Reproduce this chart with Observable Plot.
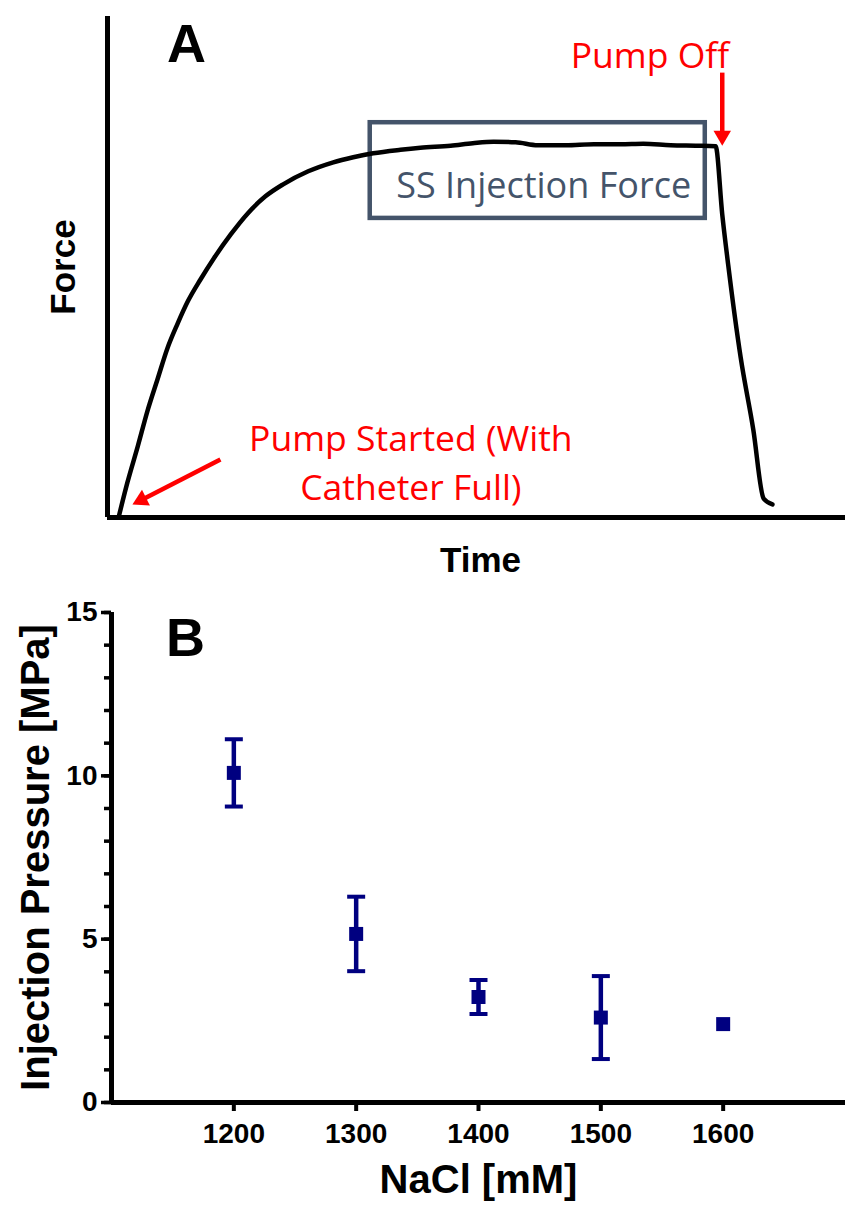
<!DOCTYPE html>
<html>
<head>
<meta charset="utf-8">
<script src="https://cdn.jsdelivr.net/npm/d3@7"></script>
<script src="https://cdn.jsdelivr.net/npm/@observablehq/plot@0.6"></script>
<style>
  html, body { margin: 0; padding: 0; background: #fff; }
  #chart { width: 845px; }
  #chart svg { display: block; }
</style>
</head>
<body>
<div id="chart"></div>
<script>
// ---------- Panel A: schematic force trace (arbitrary units) ----------
const traceTime  = [1.5, 2.7, 4.1, 5.4, 6.8, 8.1, 9.5, 10.8, 12.6, 14.4, 16.7, 19.0, 21.4, 23.8, 27.2, 30.6, 33.3, 36.0, 39.7, 42.4, 46.5, 49.5, 52.3, 55.3, 58.3, 62.1, 65.9, 69.5, 72.6, 76.3, 79.7, 82.4, 83.3, 84.1, 85.8, 87.5, 88.9, 90.1];
const traceForce = [0.0, 7.0, 14.2, 21.2, 27.7, 33.7, 38.7, 42.9, 47.5, 51.7, 56.5, 60.7, 64.1, 66.5, 69.1, 70.9, 71.9, 72.7, 73.4, 73.8, 74.2, 74.7, 75.0, 74.9, 74.3, 74.3, 74.5, 74.5, 74.6, 74.3, 74.2, 74.1, 60.5, 50.5, 31.9, 17.6, 3.8, 2.6];

const panelALabel = ["A"];
const panelALabelTime = [10.7];
const panelALabelForce = [94.3];

const boxTime  = [35.6, 81.0];
const boxForce = [59.7, 78.8];
const boxLabel = ["SS Injection Force"];
const boxLabelTime = [59.1];
const boxLabelForce = [66.0];

const redLabels = ["Pump Off", "Pump Started (With\nCatheter Full)"];
const redLabelTime = [73.5, 41.1];
const redLabelForce = [92.9, 11.5];

const arrowTailTime  = [83.3, 15.3];
const arrowTailForce = [88.8, 11.6];
const arrowHeadTime  = [83.3, 4.6];
const arrowHeadForce = [76.2, 3.5];
const arrowAngle     = [180, -117];

// ---------- Panel B: injection pressure vs NaCl ----------
const nacl        = [1200, 1300, 1400, 1500, 1600];
const pressure    = [10.09, 5.16, 3.23, 2.60, 2.40];
const pressureErr = [1.03, 1.14, 0.52, 1.27, 0];
const xTicksB      = [1200, 1300, 1400, 1500, 1600];
const yMajorTicksB = [0, 5, 10, 15];
const yMinorTicksB = [0, 1, 2, 3, 4, 5, 6, 7, 8, 9, 10, 11, 12, 13, 14, 15];
const panelBLabel = ["B"];
const panelBLabelX = [1160.5];
const panelBLabelY = [14.2];

// ---------- build tables ----------
const traceA = traceTime.map((t, i) => ({t, f: traceForce[i]}));
const boxA = [{x1: boxTime[0], x2: boxTime[1], y1: boxForce[0], y2: boxForce[1]}];
const redA = redLabels.map((s, i) => ({s, t: redLabelTime[i], f: redLabelForce[i]}));
const arrowsA = arrowTailTime.map((t, i) => ({t1: t, f1: arrowTailForce[i], t2: arrowHeadTime[i], f2: arrowHeadForce[i], a: arrowAngle[i]}));
const pointsB = nacl.map((x, i) => ({x, y: pressure[i], e: pressureErr[i]}));
const errB = pointsB.filter(d => d.e > 0);

const RED = "#ff0000";
const SLATE = "#44546a";
const NAVY = "#000080";
const boldSans = "'Liberation Sans', Arial, Helvetica, sans-serif";
const calibriLike = "'Open Sans', 'Noto Sans', sans-serif";

const plotA = Plot.plot({
  width: 845, height: 580,
  marginLeft: 107, marginRight: 0, marginTop: 16, marginBottom: 63,
  x: {domain: [0, 100], axis: null},
  y: {domain: [0, 100], axis: null},
  style: {fontFamily: boldSans, background: "#fff", color: "#000"},
  marks: [
    Plot.rect(boxA, {x1: "x1", x2: "x2", y1: "y1", y2: "y2", fill: "none", stroke: SLATE, strokeWidth: 4.5}),
    Plot.line(traceA, {x: "t", y: "f", curve: "monotone-x", stroke: "#000", strokeWidth: 4.5, strokeLinejoin: "round", strokeLinecap: "round"}),
    Plot.ruleX([0], {stroke: "#000", strokeWidth: 5}),
    Plot.ruleY([0], {stroke: "#000", strokeWidth: 5}),
    Plot.text(panelALabel, {x: panelALabelTime, y: panelALabelForce, text: d => d, fontSize: 54, fontWeight: "bold", fill: "#000"}),
    Plot.text(boxLabel, {x: boxLabelTime, y: boxLabelForce, text: d => d, fontSize: 36, fontFamily: calibriLike, fill: SLATE}),
    Plot.text(redA, {x: "t", y: "f", text: "s", fontSize: 35.5, lineHeight: 1.39, fontFamily: calibriLike, fill: RED}),
    Plot.link(arrowsA, {x1: "t1", y1: "f1", x2: "t2", y2: "f2", stroke: RED, strokeWidth: 4.5}),
    Plot.dot(arrowsA, {x: "t2", y: "f2", symbol: "triangle", r: 6.5, fill: RED, stroke: "none", rotate: "a"}),
    Plot.text(["Time"], {frameAnchor: "bottom", lineAnchor: "middle", textAnchor: "middle", dy: 43, dx: 4, text: d => d, fontSize: 35, fontWeight: "bold", fill: "#000"}),
    Plot.text(["Force"], {frameAnchor: "left", lineAnchor: "middle", textAnchor: "middle", dx: -44, rotate: -90, text: d => d, fontSize: 35, fontWeight: "bold", fill: "#000"})
  ]
});

const capSymbol = {
  draw(context, size) {
    const w = Math.sqrt(size / Math.PI);
    context.moveTo(-w, 0);
    context.lineTo(w, 0);
  }
};

const plotB = Plot.plot({
  width: 845, height: 625,
  marginLeft: 111, marginRight: 0, marginTop: 32, marginBottom: 103,
  x: {domain: [1100, 1700], axis: null},
  y: {domain: [0, 15], axis: null},
  style: {fontFamily: boldSans, fontWeight: "bold", background: "#fff", color: "#000"},
  marks: [
    Plot.axisY(yMinorTicksB, {tickSize: 7, tickFormat: () => "", strokeWidth: 3.5, label: null}),
    Plot.axisY(yMajorTicksB, {tickSize: 10, tickPadding: 4, fontSize: 28, tickFormat: d => String(d), strokeWidth: 3.5, label: null}),
    Plot.axisX(xTicksB, {tickSize: 9, tickPadding: 12, fontSize: 28, tickFormat: d => String(d), strokeWidth: 4, label: null}),
    Plot.ruleX([1100], {stroke: "#000", strokeWidth: 5}),
    Plot.ruleY([0], {stroke: "#000", strokeWidth: 5}),
    Plot.ruleX(errB, {x: "x", y1: d => d.y - d.e, y2: d => d.y + d.e, stroke: NAVY, strokeWidth: 4.5}),
    Plot.dot(errB, {x: "x", y: d => d.y + d.e, symbol: capSymbol, r: 9, fill: "none", stroke: NAVY, strokeWidth: 4}),
    Plot.dot(errB, {x: "x", y: d => d.y - d.e, symbol: capSymbol, r: 9, fill: "none", stroke: NAVY, strokeWidth: 4}),
    Plot.dot(pointsB, {x: "x", y: "y", symbol: "square", r: 7.9, fill: NAVY, stroke: "none"}),
    Plot.text(panelBLabel, {x: panelBLabelX, y: panelBLabelY, text: d => d, fontSize: 54, fill: "#000"}),
    Plot.text(["Injection Pressure [MPa]"], {frameAnchor: "left", lineAnchor: "middle", textAnchor: "middle", dx: -75, rotate: -90, text: d => d, fontSize: 40, fill: "#000"}),
    Plot.text(["NaCl [mM]"], {frameAnchor: "bottom", lineAnchor: "middle", textAnchor: "middle", dy: 78, text: d => d, fontSize: 40, fill: "#000"})
  ]
});

const chart = document.getElementById("chart");
chart.appendChild(plotA);
chart.appendChild(plotB);
</script>
</body>
</html>
